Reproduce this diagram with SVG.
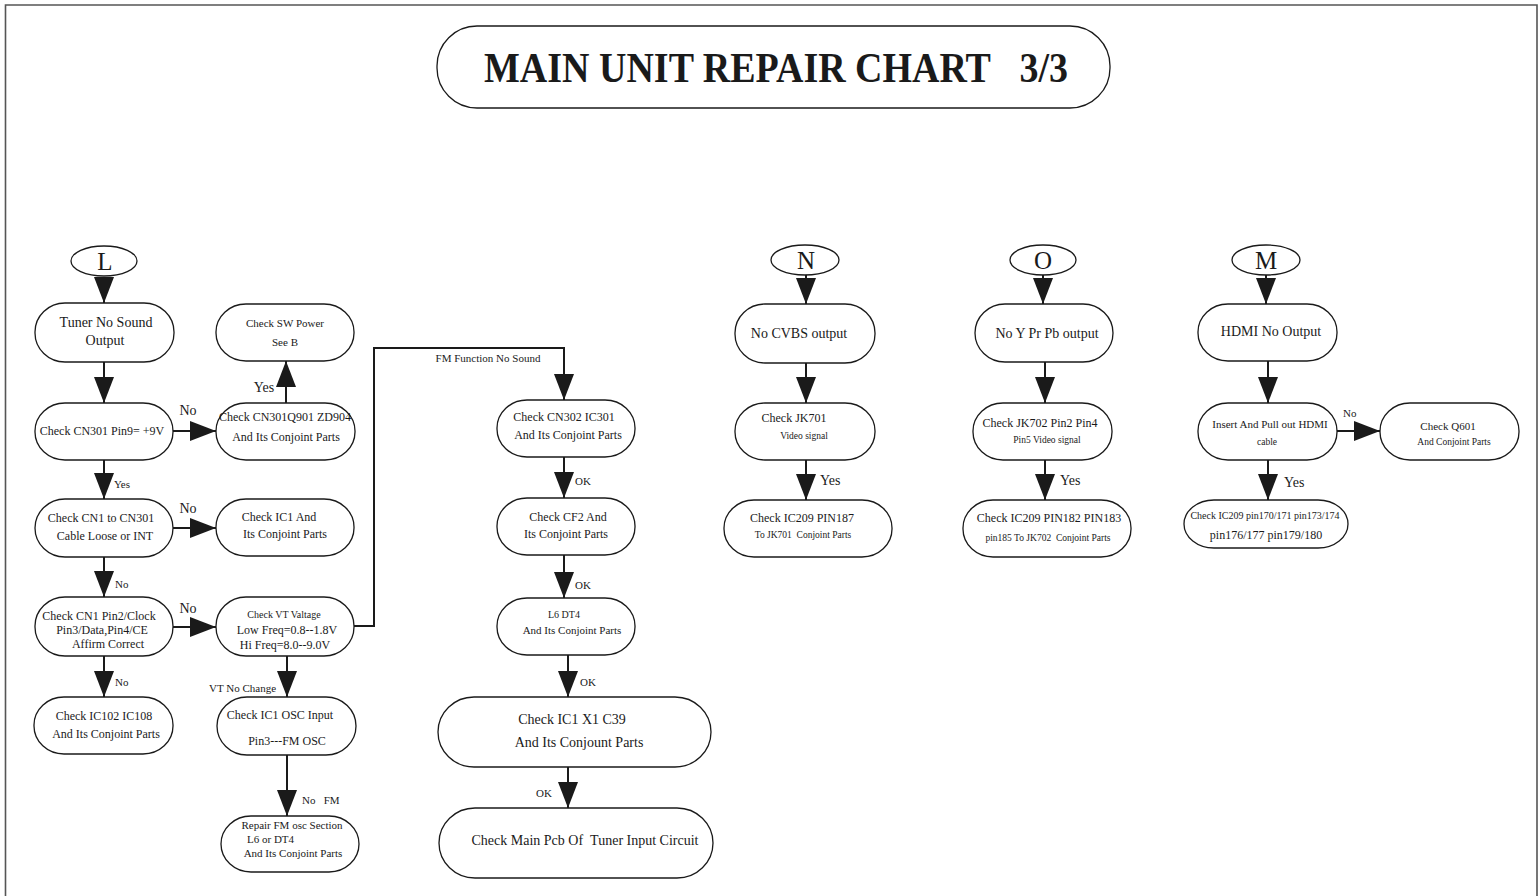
<svg xmlns="http://www.w3.org/2000/svg" width="1540" height="896" viewBox="0 0 1540 896">
<style>
.box{fill:#fff;stroke:#1a1a1a;stroke-width:1.3}
.c{fill:none;stroke:#1a1a1a;stroke-width:2}
.t{font-family:"Liberation Serif","Times New Roman",serif;fill:#1a1a1a;text-anchor:middle}
.s{text-anchor:start}
.f24{font-size:25px}
.f14{font-size:14px}
.f12{font-size:12px}
.f11{font-size:11px}
.f10{font-size:10px}
.f9{font-size:9.5px}
</style>
<defs>
<marker id="ah" markerUnits="userSpaceOnUse" markerWidth="26" markerHeight="20" refX="26" refY="10" orient="auto">
<path d="M0,0 L26,10 L0,20 Z" fill="#1a1a1a"/>
</marker>
</defs>
<rect width="1540" height="896" fill="#fff"/>
<path d="M5.5,896 V5 H1537 V896" fill="none" stroke="#555" stroke-width="1.6"/>

<g id="title">
<rect class="box" x="437" y="26" width="673" height="82" rx="40" ry="40"/>
<text class="t s" x="484" y="82" font-size="42" font-weight="bold" textLength="584" lengthAdjust="spacingAndGlyphs">MAIN UNIT REPAIR CHART&#160;&#160;&#160;3/3</text>
</g>

<g id="connectors">
<line class="c" x1="104" y1="277" x2="104" y2="303" marker-end="url(#ah)"/>
<line class="c" x1="104" y1="362" x2="104" y2="403" marker-end="url(#ah)"/>
<line class="c" x1="172" y1="431" x2="216" y2="431" marker-end="url(#ah)"/>
<line class="c" x1="286" y1="403" x2="286" y2="361" marker-end="url(#ah)"/>
<line class="c" x1="104" y1="460" x2="104" y2="499" marker-end="url(#ah)"/>
<line class="c" x1="173" y1="528" x2="216" y2="528" marker-end="url(#ah)"/>
<line class="c" x1="104" y1="557" x2="104" y2="597" marker-end="url(#ah)"/>
<line class="c" x1="173" y1="627" x2="216" y2="627" marker-end="url(#ah)"/>
<line class="c" x1="104" y1="656" x2="104" y2="697" marker-end="url(#ah)"/>
<line class="c" x1="287" y1="656" x2="287" y2="697" marker-end="url(#ah)"/>
<line class="c" x1="287" y1="755" x2="287" y2="816" marker-end="url(#ah)"/>
<polyline class="c" points="354,626 374,626 374,348 564,348 564,400" marker-end="url(#ah)"/>
<line class="c" x1="564" y1="457" x2="564" y2="498" marker-end="url(#ah)"/>
<line class="c" x1="564" y1="555" x2="564" y2="598" marker-end="url(#ah)"/>
<line class="c" x1="568" y1="655" x2="568" y2="697" marker-end="url(#ah)"/>
<line class="c" x1="568" y1="767" x2="568" y2="808" marker-end="url(#ah)"/>
<line class="c" x1="806" y1="274" x2="806" y2="304" marker-end="url(#ah)"/>
<line class="c" x1="806" y1="363" x2="806" y2="403" marker-end="url(#ah)"/>
<line class="c" x1="806" y1="460" x2="806" y2="500" marker-end="url(#ah)"/>
<line class="c" x1="1043" y1="274" x2="1043" y2="304" marker-end="url(#ah)"/>
<line class="c" x1="1045" y1="362" x2="1045" y2="403" marker-end="url(#ah)"/>
<line class="c" x1="1045" y1="460" x2="1045" y2="500" marker-end="url(#ah)"/>
<line class="c" x1="1266" y1="274" x2="1266" y2="304" marker-end="url(#ah)"/>
<line class="c" x1="1268" y1="361" x2="1268" y2="403" marker-end="url(#ah)"/>
<line class="c" x1="1337" y1="431" x2="1380" y2="431" marker-end="url(#ah)"/>
<line class="c" x1="1268" y1="460" x2="1268" y2="500" marker-end="url(#ah)"/>
<text class="t f14" x="188" y="415">No</text>
<text class="t f14" x="264" y="392">Yes</text>
<text class="t f11 s" x="114" y="488">Yes</text>
<text class="t f14" x="188" y="513">No</text>
<text class="t f11 s" x="115" y="588">No</text>
<text class="t f14" x="188" y="613">No</text>
<text class="t f11 s" x="115" y="686">No</text>
<text class="t f11 s" x="209" y="692">VT No Change</text>
<text class="t f11 s" x="302" y="804">No&#160;&#160;&#160;FM</text>
<text class="t f11" x="488" y="362">FM Function No Sound</text>
<text class="t f11 s" x="575" y="485">OK</text>
<text class="t f11 s" x="575" y="589">OK</text>
<text class="t f11 s" x="580" y="686">OK</text>
<text class="t f11 s" x="536" y="797">OK</text>
<text class="t f14 s" x="820" y="485">Yes</text>
<text class="t f14 s" x="1060" y="485">Yes</text>
<text class="t f11 s" x="1343" y="417">No</text>
<text class="t f14 s" x="1284" y="487">Yes</text>
</g>

<g id="L">
<ellipse class="box" cx="104" cy="261" rx="33" ry="15"/>
<text class="t f24" x="105" y="270">L</text>
</g>
<g id="tuner">
<rect class="box" x="35" y="303" width="139" height="59" rx="30" ry="29"/>
<text class="t f14" x="106" y="327">Tuner No Sound</text>
<text class="t f14" x="105" y="345">Output</text>
</g>
<g id="cn301">
<rect class="box" x="35" y="403" width="138" height="57" rx="30" ry="28"/>
<text class="t f12" x="102" y="435">Check CN301 Pin9= +9V</text>
</g>
<g id="swpower">
<rect class="box" x="216" y="304" width="138" height="57" rx="30" ry="28"/>
<text class="t f11" x="285" y="327">Check SW Power</text>
<text class="t f11" x="285" y="346">See B</text>
</g>
<g id="cn301q901">
<rect class="box" x="216" y="403" width="139" height="57" rx="30" ry="28"/>
<text class="t f12" x="285" y="421">Check CN301Q901 ZD904</text>
<text class="t f12" x="286" y="441">And Its Conjoint Parts</text>
</g>
<g id="cn1">
<rect class="box" x="35" y="499" width="138" height="58" rx="30" ry="29"/>
<text class="t f12" x="101" y="522">Check CN1 to CN301</text>
<text class="t f12" x="105" y="540">Cable Loose or INT</text>
</g>
<g id="ic1">
<rect class="box" x="216" y="499" width="138" height="57" rx="30" ry="28"/>
<text class="t f12" x="279" y="521">Check IC1 And</text>
<text class="t f12" x="285" y="538">Its Conjoint Parts</text>
</g>
<g id="cn1pin2">
<rect class="box" x="35" y="597" width="138" height="59" rx="30" ry="29"/>
<text class="t f12" x="99" y="620">Check CN1 Pin2/Clock</text>
<text class="t f12" x="102" y="634">Pin3/Data,Pin4/CE</text>
<text class="t f12" x="108" y="648">Affirm Correct</text>
</g>
<g id="vt">
<rect class="box" x="216" y="597" width="138" height="59" rx="30" ry="29"/>
<text class="t f10" x="284" y="618">Check VT Valtage</text>
<text class="t f12" x="287" y="634">Low Freq=0.8--1.8V</text>
<text class="t f12" x="285" y="649">Hi Freq=8.0--9.0V</text>
</g>
<g id="ic102">
<rect class="box" x="34" y="697" width="139" height="57" rx="30" ry="28"/>
<text class="t f12" x="104" y="720">Check IC102 IC108</text>
<text class="t f12" x="106" y="738">And Its Conjoint Parts</text>
</g>
<g id="ic1osc">
<rect class="box" x="217" y="697" width="139" height="58" rx="30" ry="29"/>
<text class="t f12" x="280" y="719">Check IC1 OSC Input</text>
<text class="t f12" x="287" y="745">Pin3---FM OSC</text>
</g>
<g id="repairfm">
<rect class="box" x="221" y="816" width="138" height="56" rx="30" ry="28"/>
<text class="t f11" x="292" y="829">Repair FM osc Section</text>
<text class="t f11 s" x="247" y="843">L6 or DT4</text>
<text class="t f11" x="293" y="857">And Its Conjoint Parts</text>
</g>

<g id="cn302">
<rect class="box" x="497" y="400" width="138" height="57" rx="30" ry="28"/>
<text class="t f12" x="564" y="421">Check CN302 IC301</text>
<text class="t f12" x="568" y="439">And Its Conjoint Parts</text>
</g>
<g id="cf2">
<rect class="box" x="497" y="498" width="138" height="57" rx="30" ry="28"/>
<text class="t f12" x="568" y="521">Check CF2 And</text>
<text class="t f12" x="566" y="538">Its Conjoint Parts</text>
</g>
<g id="l6dt4">
<rect class="box" x="497" y="598" width="138" height="57" rx="30" ry="28"/>
<text class="t f10" x="564" y="618">L6 DT4</text>
<text class="t f11" x="572" y="634">And Its Conjoint Parts</text>
</g>
<g id="ic1x1">
<rect class="box" x="438" y="697" width="273" height="70" rx="36" ry="35"/>
<text class="t f14" x="572" y="724">Check IC1 X1 C39</text>
<text class="t f14" x="579" y="747">And Its Conjount Parts</text>
</g>
<g id="mainpcb">
<rect class="box" x="439" y="808" width="274" height="70" rx="36" ry="35"/>
<text class="t f14" x="585" y="845">Check Main Pcb Of&#160;&#160;Tuner Input Circuit</text>
</g>

<g id="N">
<ellipse class="box" cx="805" cy="260" rx="34" ry="15"/>
<text class="t f24" x="806" y="269">N</text>
</g>
<g id="cvbs">
<rect class="box" x="735" y="304" width="140" height="59" rx="30" ry="29"/>
<text class="t f14" x="799" y="338">No CVBS output</text>
</g>
<g id="jk701">
<rect class="box" x="735" y="403" width="140" height="57" rx="30" ry="28"/>
<text class="t f12" x="794" y="422">Check JK701</text>
<text class="t f9" x="804" y="439">Video signal</text>
</g>
<g id="ic209a">
<rect class="box" x="724" y="500" width="168" height="57" rx="30" ry="28"/>
<text class="t f12" x="802" y="522">Check IC209 PIN187</text>
<text class="t f9" x="803" y="538">To JK701&#160;&#160;Conjoint Parts</text>
</g>

<g id="O">
<ellipse class="box" cx="1043" cy="260" rx="33" ry="15"/>
<text class="t f24" x="1043" y="269">O</text>
</g>
<g id="ypbpr">
<rect class="box" x="975" y="304" width="138" height="58" rx="30" ry="29"/>
<text class="t f14" x="1047" y="338">No Y Pr Pb output</text>
</g>
<g id="jk702">
<rect class="box" x="973" y="403" width="139" height="57" rx="30" ry="28"/>
<text class="t f12" x="1040" y="427">Check JK702 Pin2 Pin4</text>
<text class="t f9" x="1047" y="443">Pin5 Video signal</text>
</g>
<g id="ic209b">
<rect class="box" x="963" y="500" width="168" height="57" rx="30" ry="28"/>
<text class="t f12" x="1049" y="522">Check IC209 PIN182 PIN183</text>
<text class="t f9" x="1048" y="541">pin185 To JK702&#160;&#160;Conjoint Parts</text>
</g>

<g id="M">
<ellipse class="box" cx="1266" cy="260" rx="34" ry="15"/>
<text class="t f24" x="1266" y="269">M</text>
</g>
<g id="hdmi">
<rect class="box" x="1198" y="304" width="139" height="57" rx="30" ry="28"/>
<text class="t f14" x="1271" y="336">HDMI No Output</text>
</g>
<g id="insert">
<rect class="box" x="1198" y="403" width="139" height="57" rx="30" ry="28"/>
<text class="t f11" x="1270" y="428">Insert And Pull out HDMI</text>
<text class="t f9" x="1267" y="445">cable</text>
</g>
<g id="q601">
<rect class="box" x="1380" y="403" width="139" height="57" rx="30" ry="28"/>
<text class="t f11" x="1448" y="430">Check Q601</text>
<text class="t f9" x="1454" y="445">And Conjoint Parts</text>
</g>
<g id="ic209c">
<rect class="box" x="1184" y="500" width="164" height="48" rx="30" ry="24"/>
<text class="t f10" x="1265" y="519">Check IC209 pin170/171 pin173/174</text>
<text class="t f12" x="1266" y="539">pin176/177 pin179/180</text>
</g>
</svg>
